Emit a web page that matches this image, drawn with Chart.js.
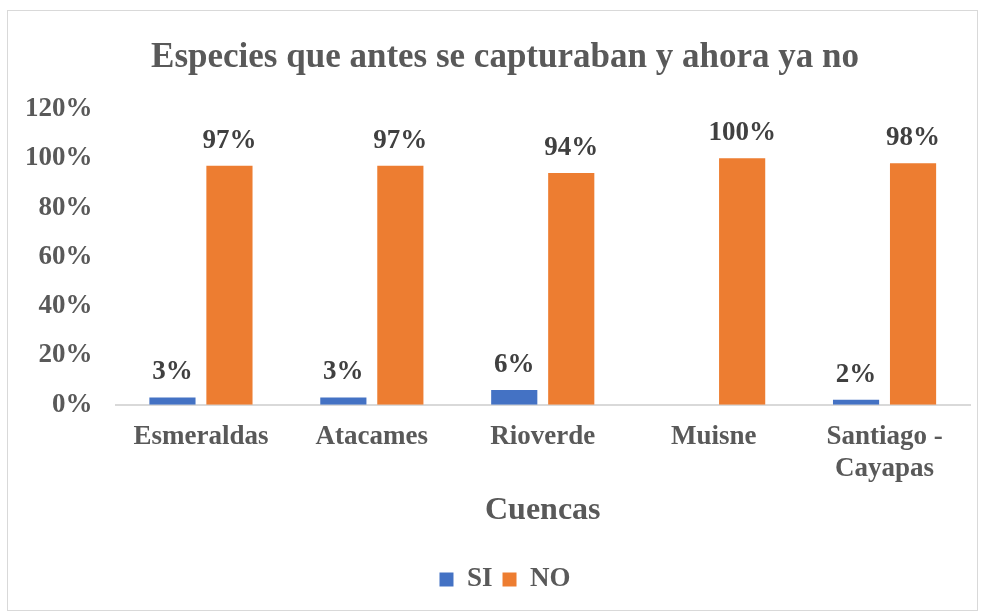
<!DOCTYPE html>
<html>
<head>
<meta charset="utf-8">
<script src="https://cdn.jsdelivr.net/npm/chart.js@4.4.1/dist/chart.umd.min.js"></script>
<style>
  body { margin: 0; background: #fff; }
  #wrap { position: absolute; left: 7px; top: 10px; width: 971px; height: 601px; border: 1px solid #d9d9d9; box-sizing: border-box; }
  #chart { position: absolute; left: 0; top: 0; }
</style>
</head>
<body>
<div id="wrap"></div>
<canvas id="chart" width="985" height="611"></canvas>
<script>
const categories = ["Esmeraldas", "Atacames", "Rioverde", "Muisne", ["Santiago -", "Cayapas"]];
const siValues = [3, 3, 6, null, 2];
const noValues = [97, 97, 94, 100, 98];
const yTicks = [0, 20, 40, 60, 80, 100, 120];

const serif = "'Liberation Serif', 'Times New Roman', serif";

// draws the value above each bar
const barLabels = {
    id: "barLabels",
    afterDatasetsDraw(chart) {
        const ctx = chart.ctx;
        ctx.save();
        ctx.font = "bold 27px " + serif;
        ctx.fillStyle = "#404040";
        ctx.textAlign = "center";
        ctx.textBaseline = "alphabetic";
        chart.data.datasets.forEach((ds, i) => {
            const meta = chart.getDatasetMeta(i);
            meta.data.forEach((bar, j) => {
                if (ds.data[j] == null) return;
                ctx.fillText(ds.data[j] + "%", bar.x, bar.y - 18);
            });
        });
        ctx.restore();
    }
};

// nudge title and legend a bit to the right, like the original
const shiftBlocks = {
    id: "shiftBlocks",
    afterLayout(chart) {
        [chart.titleBlock, chart.legend].forEach(b => {
            if (!b) return;
            b.left += 15;
            b.right += 15;
        });
    }
};

new Chart(document.getElementById("chart").getContext("2d"), {
    type: "bar",
    data: {
        labels: categories,
        datasets: [
            { label: "SI", data: siValues, backgroundColor: "#4472c4", barPercentage: 0.81, categoryPercentage: 0.667 },
            { label: "NO", data: noValues, backgroundColor: "#ed7d31", barPercentage: 0.81, categoryPercentage: 0.667 }
        ]
    },
    options: {
        responsive: false,
        animation: false,
        layout: { padding: { left: 10, right: 15, top: 0, bottom: 8 } },
        plugins: {
            title: {
                display: true,
                text: "Especies que antes se capturaban y ahora ya no",
                color: "#595959",
                font: { family: serif, size: 35, weight: "bold" },
                padding: { top: 37, bottom: 30 }
            },
            legend: {
                position: "bottom",
                labels: {
                    color: "#595959",
                    font: { family: serif, size: 27, weight: "bold" },
                    boxWidth: 14,
                    boxHeight: 14,
                    padding: 10
                }
            },
            tooltip: { enabled: false }
        },
        scales: {
            x: {
                grid: { display: false },
                border: { display: true, color: "#d9d9d9", width: 2 },
                ticks: {
                    color: "#595959",
                    font: { family: serif, size: 27, weight: "bold" },
                    maxRotation: 0,
                    padding: 8
                },
                title: {
                    display: true,
                    text: "Cuencas",
                    color: "#595959",
                    font: { family: serif, size: 32, weight: "bold" },
                    padding: { top: -2, bottom: 26 }
                }
            },
            y: {
                min: 0,
                max: 120,
                grid: { display: false },
                border: { display: false },
                afterBuildTicks(axis) {
                    axis.ticks = yTicks.map(v => ({ value: v }));
                },
                ticks: {
                    color: "#595959",
                    font: { family: serif, size: 27, weight: "bold" },
                    padding: 15,
                    callback: v => v + "%"
                }
            }
        }
    },
    plugins: [barLabels, shiftBlocks]
});
</script>
</body>
</html>
